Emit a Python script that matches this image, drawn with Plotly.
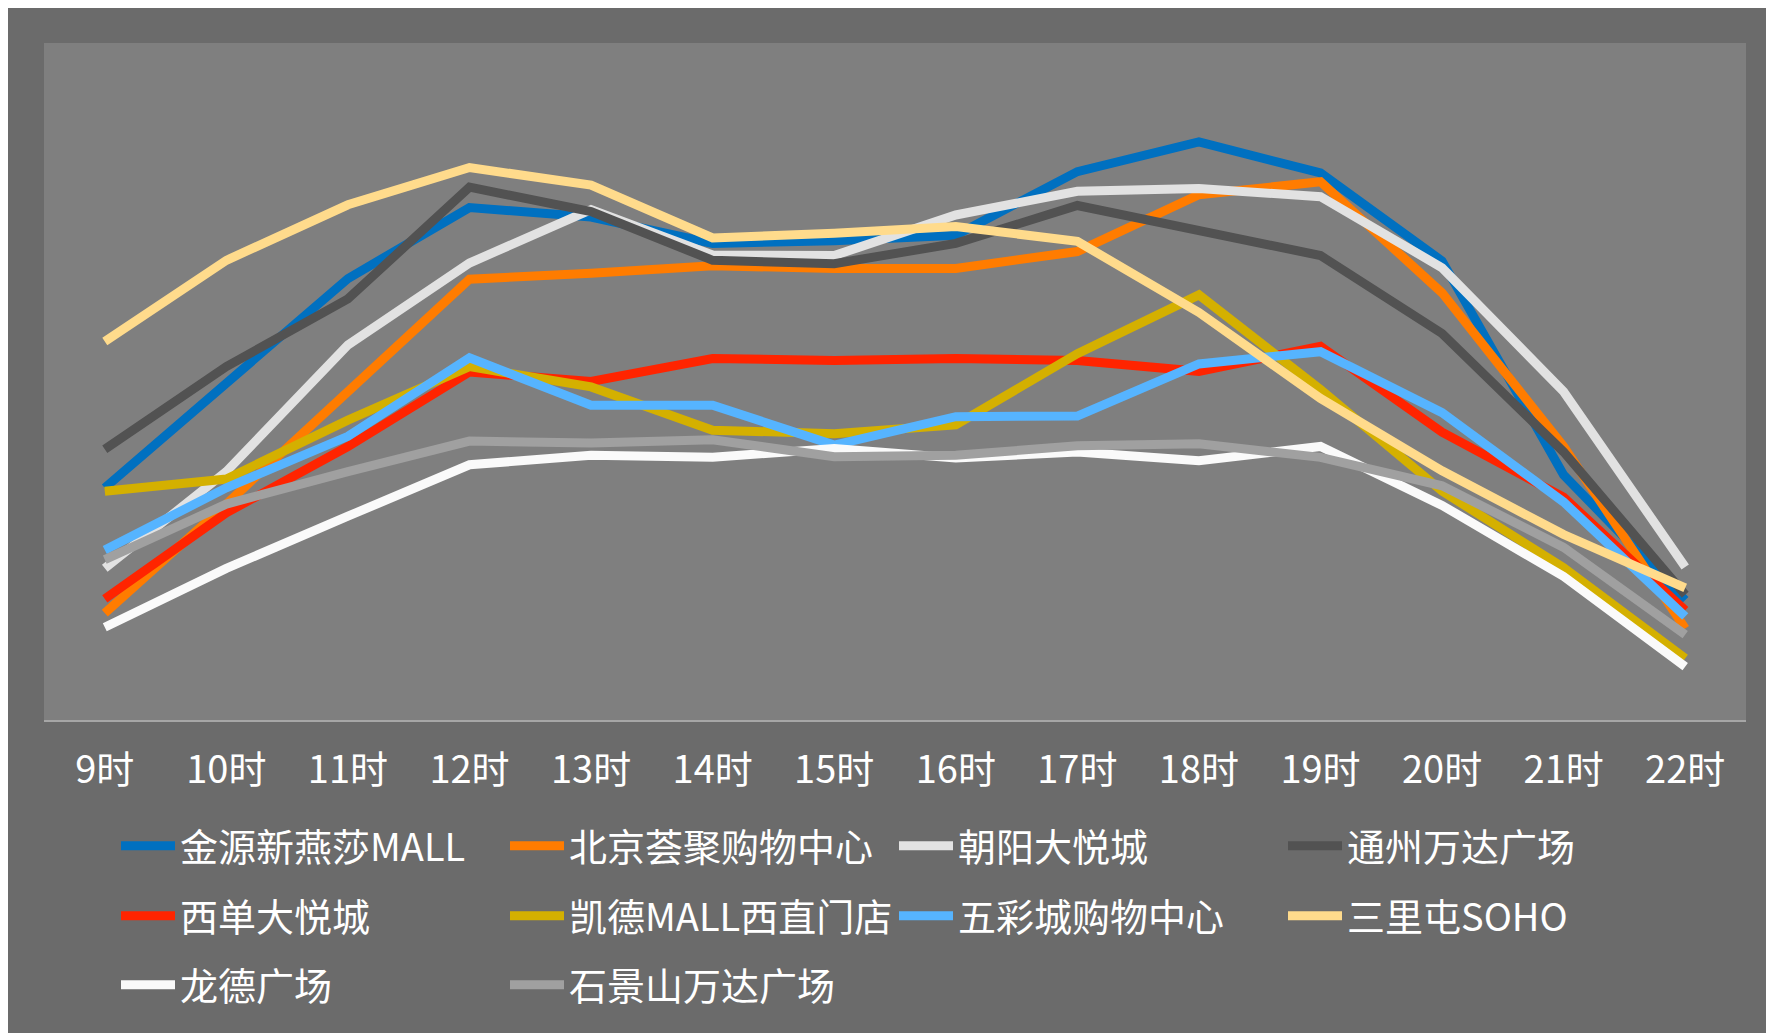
import plotly.graph_objects as go

hours = ["9时", "10时", "11时", "12时", "13时", "14时", "15时", "16时", "17时", "18时", "19时", "20时", "21时", "22时"]

names = ["金源新燕莎MALL", "北京荟聚购物中心", "朝阳大悦城", "通州万达广场",
         "西单大悦城", "凯德MALL西直门店", "五彩城购物中心", "三里屯SOHO",
         "龙德广场", "石景山万达广场"]

jinyuan = [34.3, 49.6, 65.2, 75.7, 74.3, 70.4, 70.8, 71.6, 81.0, 85.4, 80.8, 67.8, 36.2, 17.7]
huiju = [15.8, 31.9, 48.5, 65.1, 66.0, 67.1, 66.7, 66.7, 69.2, 77.6, 79.5, 63.1, 40.4, 13.5]
chaoyang = [22.4, 36.7, 55.4, 67.5, 75.4, 68.7, 68.6, 74.6, 78.1, 78.5, 77.3, 66.8, 48.5, 22.6]
tongzhou = [40.0, 52.2, 62.2, 78.7, 75.1, 67.9, 67.4, 70.4, 76.0, 72.3, 68.6, 57.1, 39.6, 18.5]
xidan = [17.9, 30.6, 40.4, 51.4, 50.0, 53.4, 53.1, 53.4, 53.1, 51.5, 55.2, 42.5, 32.9, 16.2]
kaide = [33.8, 35.6, 44.3, 52.2, 49.2, 42.8, 42.3, 43.6, 54.1, 62.8, 48.8, 33.8, 22.5, 9.1]
wucaicheng = [25.1, 34.3, 41.9, 53.5, 46.5, 46.5, 40.6, 44.8, 44.9, 52.6, 54.4, 45.4, 32.2, 15.3]
sanlitun = [55.9, 67.9, 76.1, 81.6, 79.0, 71.2, 71.9, 72.9, 70.7, 60.2, 47.5, 36.8, 27.4, 19.5]
longde = [13.7, 22.4, 30.1, 37.7, 39.1, 38.8, 40.1, 38.7, 39.6, 38.3, 40.4, 31.7, 21.2, 7.9]
shijingshan = [23.7, 31.9, 36.7, 41.2, 40.9, 41.4, 38.9, 39.1, 40.5, 40.8, 38.8, 34.6, 25.5, 12.6]

series = [jinyuan, huiju, chaoyang, tongzhou, xidan, kaide, wucaicheng, sanlitun, longde, shijingshan]
colors = ["#0070C0", "#FF7C00", "#E2E2E2", "#525252", "#FF2400",
          "#D4B000", "#56B4FF", "#FFDB8C", "#FAFAFA", "#A0A0A0"]
legend_ids = ["legend", "legend", "legend", "legend",
              "legend2", "legend2", "legend2", "legend2",
              "legend3", "legend3"]

FONT = "Noto Sans CJK SC, Noto Sans, sans-serif"

fig = go.Figure()
for name, vals, col, lg in zip(names, series, colors, legend_ids):
    fig.add_trace(go.Scatter(
        x=hours, y=vals, name=name, mode="lines",
        line=dict(color=col, width=9),
        legend=lg,
    ))

# page body margin offsets the figure by 8px; coordinates below are screen px
OFF = 8
SW, SH = 1774, 1033
W, H = SW - OFF, SH - OFF
pl, pr, pt, pb = 44, 1746, 43, 720   # plot area in screen px
ml, mr, mt, mb = pl - OFF, SW - pr, pt - OFF, SH - pb
pw, ph = pr - pl, pb - pt


def px_x(x):
    return (x - pl) / pw


def px_y(y):
    return (pb - y) / ph


leg_common = dict(
    orientation="h", xanchor="left", yanchor="middle",
    entrywidth=320, entrywidthmode="pixels", itemwidth=54,
    font=dict(family=FONT, size=38, color="white"),
    bgcolor="rgba(0,0,0,0)", borderwidth=0, tracegroupgap=0,
)

fig.update_layout(
    width=W, height=H,
    margin=dict(l=ml, r=mr, t=mt, b=mb, pad=0),
    paper_bgcolor="#6B6B6B",
    plot_bgcolor="#7F7F7F",
    font=dict(family=FONT, color="white"),
    showlegend=True,
    legend=dict(x=px_x(116), y=px_y(846), **leg_common),
    legend2=dict(x=px_x(116), y=px_y(916), **leg_common),
    legend3=dict(x=px_x(116), y=px_y(985), **leg_common),
    xaxis=dict(
        type="category", range=[-0.5, 13.5],
        showgrid=False, zeroline=False,
        showline=True, linecolor="#A6A6A6", linewidth=2,
        ticks="", ticklabelstandoff=15,
        tickfont=dict(family=FONT, size=38, color="white"),
        fixedrange=True,
    ),
    yaxis=dict(range=[0, 100], visible=False, fixedrange=True),
)

fig.write_html("out.html")
